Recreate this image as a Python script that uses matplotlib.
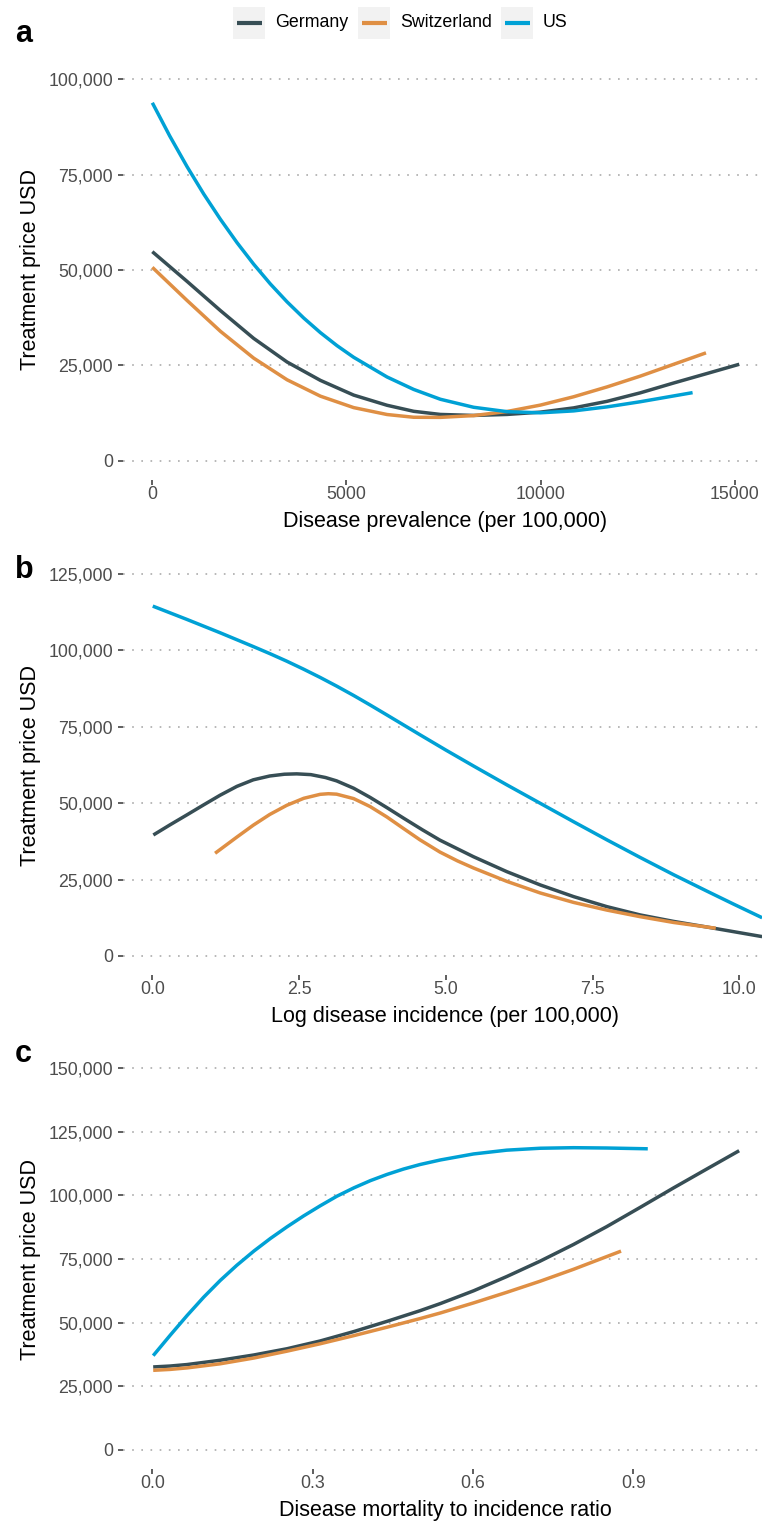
import matplotlib
matplotlib.use("Agg")
import matplotlib.pyplot as plt
from matplotlib.patches import Rectangle
from matplotlib.ticker import FuncFormatter

plt.rcParams['font.family'] = ['Liberation Sans', 'DejaVu Sans']

countries = ['Germany', 'Switzerland', 'US']
colors = {'Germany': '#374E55', 'Switzerland': '#DF8F44', 'US': '#00A1D5'}

# panel a: price vs disease prevalence (per 100,000)
a_x = {
    'Germany': [0, 896, 1754, 2611, 3470, 4328, 5185, 6045, 6731, 7418, 8275,
                9135, 9993, 10850, 11710, 12567, 13425, 14270, 15115],
    'Switzerland': [0, 896, 1754, 2611, 3470, 4328, 5185, 6045, 6731, 7418,
                    8275, 9135, 9993, 10850, 11710, 12567, 13425, 14258],
    'US': [0, 448, 896, 1325, 1754, 2183, 2611, 3040, 3470, 3899, 4328, 4756,
           5185, 6045, 6731, 7418, 8275, 9135, 9993, 10850, 11710, 12567,
           13913],
}
a_y = {
    'Germany': [54800, 47005, 39370, 32085, 25900, 21095, 17235, 14570, 12990,
                12170, 11910, 12170, 12770, 13885, 15605, 17830, 20405, 22850,
                25310],
    'Switzerland': [50700, 42010, 33945, 26915, 21250, 16960, 13960, 12150,
                    11430, 11400, 11870, 12945, 14615, 16800, 19380, 22210,
                    25300, 28300],
    'US': [93800, 85110, 77045, 69880, 63275, 57140, 51510, 46340, 41655,
           37420, 33600, 30190, 27140, 21980, 18720, 16145, 14045, 12900,
           12600, 13100, 14150, 15500, 17880],
}

# panel b: price vs log disease incidence
b_x = {
    'Germany': [0.017, 0.30, 0.586, 0.87, 1.154, 1.44, 1.72, 2.0, 2.25, 2.46,
                2.7, 2.95, 3.14, 3.43, 3.71, 4.0, 4.28, 4.6, 4.9, 5.47, 6.04,
                6.61, 7.18, 7.745, 8.31, 8.88, 9.45, 10.39],
    'Switzerland': [1.069, 1.44, 1.72, 2.0, 2.29, 2.58, 2.86, 3.0, 3.14, 3.43,
                    3.71, 3.995, 4.28, 4.56, 4.9, 5.2, 5.47, 6.04, 6.61, 7.18,
                    7.745, 8.31, 8.88, 9.60],
    'US': [0.007, 0.586, 1.154, 1.72, 2.005, 2.29, 2.575, 2.86, 3.145, 3.43,
           3.71, 3.995, 4.56, 5.0, 5.47, 6.04, 6.61, 7.18, 7.745, 8.31, 8.88,
           9.45, 9.9, 10.39],
}
b_y = {
    'Germany': [39590, 42900, 46140, 49400, 52600, 55500, 57650, 58900, 59480,
                59600, 59350, 58400, 57300, 54900, 51900, 48500, 45100, 41300,
                37900, 32490, 27580, 23230, 19400, 16130, 13420, 11300, 9450,
                6320],
    'Switzerland': [33600, 38900, 42800, 46300, 49300, 51600, 52900, 53100,
                    52950, 51500, 48900, 45500, 41700, 38000, 34000, 31100,
                    28800, 24400, 20600, 17500, 15000, 12850, 10950, 9060],
    'US': [114520, 110180, 105800, 101275, 98940, 96490, 93890, 91160, 88280,
           85260, 82150, 78900, 72400, 67400, 62200, 56000, 49950, 43900,
           38000, 32250, 26600, 21200, 16990, 12500],
}

# panel c: price vs mortality to incidence ratio
c_x = {
    'Germany': [0.0015, 0.033, 0.065, 0.127, 0.19, 0.252, 0.314, 0.377, 0.439,
                0.501, 0.539, 0.601, 0.663, 0.725, 0.788, 0.85, 0.913, 0.975,
                1.037, 1.098],
    'Switzerland': [0.0015, 0.033, 0.065, 0.127, 0.19, 0.252, 0.314, 0.377,
                    0.439, 0.501, 0.539, 0.601, 0.663, 0.726, 0.788, 0.877],
    'US': [0.0015, 0.034, 0.065, 0.096, 0.127, 0.158, 0.19, 0.221, 0.252,
           0.283, 0.314, 0.345, 0.377, 0.408, 0.439, 0.47, 0.501, 0.539,
           0.601, 0.663, 0.726, 0.788, 0.85, 0.927],
}
c_y = {
    'Germany': [32590, 32950, 33540, 35220, 37300, 39750, 42800, 46500, 50500,
                54700, 57500, 62500, 68100, 74100, 80700, 87700, 95300, 102900,
                110300, 117540],
    'Switzerland': [31270, 31620, 32220, 33835, 36100, 38800, 41700, 44900,
                    48200, 51600, 53800, 57750, 61900, 66300, 70950, 78100],
    'US': [37030, 45220, 52815, 60007, 66579, 72531, 78131, 83091, 87648,
           91926, 95894, 99640, 102950, 105790, 108220, 110340, 112126,
           113912, 116268, 117756, 118512, 118729, 118605, 118297],
}

panels = [
    ('a', a_x, a_y, 'Disease prevalence (per 100,000)',
     [0, 5000, 10000, 15000], ['0', '5000', '10000', '15000'],
     [0, 25000, 50000, 75000, 100000]),
    ('b', b_x, b_y, 'Log disease incidence (per 100,000)',
     [0, 2.5, 5, 7.5, 10], ['0.0', '2.5', '5.0', '7.5', '10.0'],
     [0, 25000, 50000, 75000, 100000, 125000]),
    ('c', c_x, c_y, 'Disease mortality to incidence ratio',
     [0, 0.3, 0.6, 0.9], ['0.0', '0.3', '0.6', '0.9'],
     [0, 25000, 50000, 75000, 100000, 125000, 150000]),
]

# layout in pixels
W, H = 762, 1523
left_px, right_px = 123, 768
tops = [60, 555, 1049]
ph = 420
xlims = [(-755, 15855), (-0.50, 10.49), (-0.055, 1.152)]
label_base = [42, 578, 1062]

fig = plt.figure(figsize=(W / 100, H / 100), dpi=100)

for i, (tag, xs, ys, xlab, xt, xtl, yt) in enumerate(panels):
    top = tops[i]
    ax = fig.add_axes([left_px / W, 1 - (top + ph) / H,
                       (right_px - left_px) / W, ph / H])
    for name in countries:
        ax.plot(xs[name], ys[name], color=colors[name], lw=2.5,
                solid_capstyle='butt', solid_joinstyle='round', zorder=3)
    ymax = yt[-1]
    ax.set_ylim(-0.05 * ymax, 1.05 * ymax)
    ax.set_xlim(*xlims[i])
    ax.set_yticks(yt)
    ax.yaxis.set_major_formatter(FuncFormatter(lambda v, p: f'{v:,.0f}'))
    ax.set_xticks(xt)
    ax.set_xticklabels(xtl)
    ax.yaxis.grid(True, color='#ABABAB', linestyle=(0, (1, 4.5)),
                  linewidth=1.2)
    ax.xaxis.grid(False)
    ax.set_axisbelow(True)
    for s in ax.spines.values():
        s.set_visible(False)
    ax.tick_params(axis='both', length=3.6, width=1.1, color='#333333',
                   labelsize=12.8, labelcolor='#4D4D4D')
    ax.tick_params(axis='y', pad=3.6)
    ax.tick_params(axis='x', pad=0.8)

    fig.text(31 / W, 1 - (top + ph / 2) / H, 'Treatment price USD',
             rotation=90, ha='center', va='center', fontsize=15.5)
    fig.text((left_px + right_px) / 2 / W, 1 - (top + ph + 47) / H, xlab,
             ha='center', va='baseline', fontsize=15.5)
    fig.text(15 / W, 1 - label_base[i] / H, tag, ha='left', va='baseline',
             fontsize=22, fontweight='bold')

# legend on top
lax = fig.add_axes([0, 0, 1, 1], zorder=10)
lax.set_xlim(0, W)
lax.set_ylim(H, 0)
lax.axis('off')
key_x = [232.7, 358, 501]
text_x = [275, 400, 543]
for name, kx, tx in zip(countries, key_x, text_x):
    lax.add_patch(Rectangle((kx, 6.7), 32.3, 32.3, facecolor='#F2F2F2',
                            edgecolor='none'))
    lax.plot([kx + 4, kx + 29], [22.8, 22.8], color=colors[name], lw=3.0,
             solid_capstyle='butt')
    lax.text(tx, 22.8, name, ha='left', va='center', fontsize=12.8,
             color='black')

fig.savefig('out.png', dpi=100)
